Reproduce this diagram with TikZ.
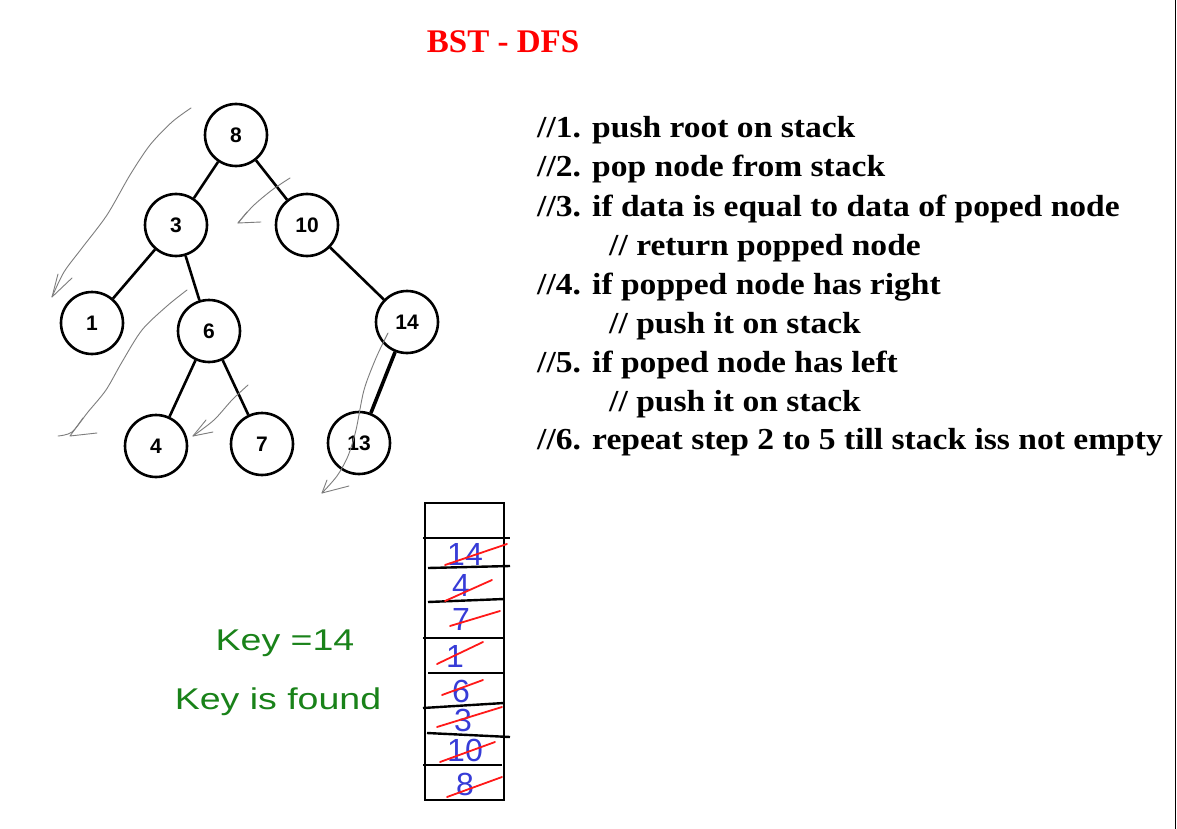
\documentclass[tikz,border=0pt]{standalone}
\usepackage{fontspec}
\usepackage{graphicx}
\setmainfont{Liberation Serif}
\newfontfamily\arialfont{Liberation Sans}
\definecolor{titlered}{RGB}{255,0,0}
\definecolor{inkgreen}{RGB}{25,130,25}
\definecolor{inkblue}{RGB}{55,60,215}
\definecolor{inkred}{RGB}{255,25,25}
\definecolor{inkgray}{RGB}{125,125,125}
\newcommand\stepwide[1]{\scalebox{1.1}[1]{#1}}
\newcommand\handwide[1]{\scalebox{1.25}[1]{#1}}
\begin{document}
\begin{tikzpicture}[x=1pt,y=-1pt,
  tnode/.style={circle,draw=black,line width=2.6pt,minimum size=62pt,inner sep=0pt,
    font=\arialfont\bfseries\fontsize{21}{21}\selectfont},
  tedge/.style={line width=2.6pt},
  stepline/.style={anchor=base west,inner sep=0pt,font=\bfseries\fontsize{30.5}{36}\selectfont},
  ink/.style={draw=inkgray,line width=0.9pt,line cap=round,line join=round},
  stackline/.style={line width=2.4pt},
  stackdigit/.style={inner sep=0pt,text=inkblue,font=\arialfont\fontsize{32}{32}\selectfont},
  strike/.style={draw=inkred,line width=1.8pt,line cap=round},
  greentext/.style={inner sep=0pt,text=inkgreen,font=\arialfont\fontsize{30}{30}\selectfont}
]
\useasboundingbox (0,0) rectangle (1177,829);
\fill[white] (0,0) rectangle (1177,829);

% right border line
\coordinate (rtop) at (1175,0);
\coordinate (rbot) at (1175,829);
\draw[line width=1pt] (rtop) -- (rbot);

% title
\node[inner sep=0pt,anchor=base,text=titlered,font=\bfseries\fontsize{33}{33}\selectfont] (title) at (503,53) {BST - DFS};

% tree
\node[tnode] (n8)  at (236,135) {8};
\node[tnode] (n3)  at (176,225) {3};
\node[tnode] (n10) at (307,225) {10};
\node[tnode] (n1)  at (92,323)  {1};
\node[tnode] (n6)  at (209,331) {6};
\node[tnode] (n14) at (407,322) {14};
\node[tnode] (n4)  at (156,446) {4};
\node[tnode] (n7)  at (262,444) {7};
\node[tnode] (n13) at (359,443) {13};
\draw[tedge] (n8) -- (n3);
\draw[tedge] (n8) -- (n10);
\draw[tedge] (n3) -- (n1);
\draw[tedge] (n3) -- (n6);
\draw[tedge] (n10) -- (n14);
\draw[tedge] (n6) -- (n4);
\draw[tedge] (n6) -- (n7);
\draw[tedge,line width=3.6pt] (n14) -- (n13);

% hand-drawn traversal arrows
\draw[ink] plot[smooth] coordinates {(191,108) (172,122) (150,145) (130,175) (107,215) (82,248) (64,272) (52,297)};
\draw[ink] (58,274) -- (52,297) -- (72,278);
\draw[ink] plot[smooth] coordinates {(290,178) (272,190) (253,206) (238,223)};
\draw[ink] (247,212) -- (238,223) -- (261,222);
\draw[ink] plot[smooth] coordinates {(187,290) (167,306) (142,330) (122,362) (106,390) (88,412) (72,432) (58,436)};
\draw[ink] (83,418) -- (70,436) -- (97,433);
\draw[ink] plot[smooth] coordinates {(248,385) (232,400) (214,420) (193,436)};
\draw[ink] (206,420) -- (193,436) -- (213,432);
\draw[ink] plot[smooth] coordinates {(388,333) (376,358) (364,390) (356,430) (348,456) (337,476) (322,493)};
\draw[ink] (327,480) -- (322,493) -- (349,486);

% algorithm text
\node[stepline] (t1) at (537,138) {\stepwide{//1. push root on stack}};
\node[stepline] (t2) at (537,177) {\stepwide{//2. pop node from stack}};
\node[stepline] (t3) at (537,216) {\stepwide{//3. if data is equal to data of poped node}};
\node[stepline] (t4) at (609,255) {\stepwide{// return popped node}};
\node[stepline] (t5) at (537,294) {\stepwide{//4. if popped node has right}};
\node[stepline] (t6) at (609,333) {\stepwide{// push it on stack}};
\node[stepline] (t7) at (537,372) {\stepwide{//5. if poped node has left}};
\node[stepline] (t8) at (609,411) {\stepwide{// push it on stack}};
\node[stepline] (t9) at (537,449) {\stepwide{//6. repeat step 2 to 5 till stack iss not empty}};

% stack
\draw[stackline] (425,503) rectangle (504,800);
\draw[stackline] (423,538) -- (510,538);
\draw[stackline] (428,568) -- (510,566);
\draw[stackline] (428,602) -- (504,599);
\draw[stackline] (423,638) -- (504,638);
\draw[stackline] (428,673) -- (504,673);
\draw[stackline] (423,708) -- (504,703);
\draw[stackline] (427,733) -- (510,737);
\draw[stackline] (423,765) -- (502,765);

\node[stackdigit] (s1) at (465,554) {14};
\node[stackdigit] (s2) at (461,585) {4};
\node[stackdigit] (s3) at (461,619) {7};
\node[stackdigit] (s4) at (455,656) {1};
\node[stackdigit] (s5) at (461,691) {6};
\node[stackdigit] (s6) at (463,720) {3};
\node[stackdigit] (s7) at (465,750) {10};
\node[stackdigit] (s8) at (465,784) {8};

\draw[strike] (445,565) -- (507,544);
\draw[strike] (445,601) -- (492,580);
\draw[strike] (450,626) -- (500,611);
\draw[strike] (437,664) -- (483,642);
\draw[strike] (442,695) -- (483,680);
\draw[strike] (437,727) -- (502,707);
\draw[strike] (440,762) -- (495,742);
\draw[strike] (447,797) -- (502,777);

% handwritten note
\node[greentext] (g1) at (285,643) {\handwide{Key =14}};
\node[greentext] (g2) at (278,702) {\handwide{Key is found}};
\end{tikzpicture}
\end{document}
